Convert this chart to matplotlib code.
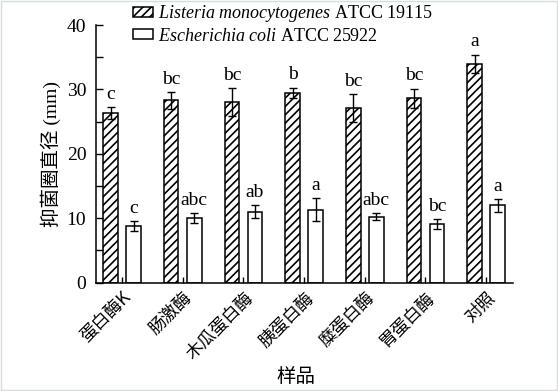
import numpy as np
import matplotlib
matplotlib.use("Agg")
import matplotlib.pyplot as plt
from matplotlib.ticker import MultipleLocator

plt.rcParams['font.family'] = ['Liberation Serif', 'Noto Sans CJK SC']
plt.rcParams['mathtext.fontset'] = 'custom'
plt.rcParams['mathtext.rm'] = 'Liberation Serif'
plt.rcParams['mathtext.it'] = 'Liberation Serif:italic'
plt.rcParams['hatch.linewidth'] = 1.2

# data
samples = ["蛋白酶K", "肠激酶", "木瓜蛋白酶", "胰蛋白酶", "糜蛋白酶", "胃蛋白酶", "对照"]
listeria = [26.3, 28.3, 28.05, 29.45, 27.1, 28.6, 33.95]
listeria_err = [0.9, 1.3, 2.1, 0.85, 2.2, 1.5, 1.45]
listeria_sig = ["c", "bc", "bc", "b", "bc", "bc", "a"]
ecoli = [8.8, 10.05, 11.0, 11.3, 10.25, 9.1, 12.0]
ecoli_err = [0.8, 0.75, 1.0, 1.8, 0.5, 0.8, 0.95]
ecoli_sig = ["c", "abc", "ab", "a", "abc", "bc", "a"]

fig = plt.figure(figsize=(5.58, 3.91), dpi=100)
ax = fig.add_axes([0.172, 0.277, 0.747, 0.659])

x = np.arange(len(samples))
w = 0.24
off = 0.19

ax.bar(x - off, listeria, w, color='white', edgecolor='black', hatch='////',
       linewidth=1.1, label=r'$\it{Listeria\ monocytogenes}$ ATCC 19115')
ax.bar(x + off, ecoli, w, color='white', edgecolor='black',
       linewidth=1.1, label=r'$\it{Escherichia\ coli}$ ATCC 25922')
ax.errorbar(x - off, listeria, yerr=listeria_err, fmt='none', ecolor='black',
            elinewidth=1, capsize=3, capthick=1)
ax.errorbar(x + off, ecoli, yerr=ecoli_err, fmt='none', ecolor='black',
            elinewidth=1, capsize=3, capthick=1)

for xi, v, e, s in zip(x - off, listeria, listeria_err, listeria_sig):
    ax.annotate(s, (xi, v + e), xytext=(0, 6), textcoords='offset points',
                ha='center', va='baseline', fontsize=14)
for xi, v, e, s in zip(x + off, ecoli, ecoli_err, ecoli_sig):
    ax.annotate(s, (xi, v + e), xytext=(0, 6), textcoords='offset points',
                ha='center', va='baseline', fontsize=14)

ax.set_xlim(-0.43, 6.44)
ax.set_ylim(0, 40)
ax.yaxis.set_major_locator(MultipleLocator(10))
ax.yaxis.set_minor_locator(MultipleLocator(5))
ax.tick_params(axis='y', which='both', direction='in', length=5, width=1,
               labelsize=14, pad=7)
ax.tick_params(axis='x', direction='in', length=4, width=1, pad=4)
ax.set_xticks(x)
ax.set_xticklabels(samples, rotation=45, ha='right', rotation_mode='anchor',
                   fontsize=12.5, family=['Noto Sans CJK SC', 'Liberation Serif'])
for sp in ['top', 'right']:
    ax.spines[sp].set_visible(False)
for sp in ['left', 'bottom']:
    ax.spines[sp].set_linewidth(1.1)

ax.set_ylabel("抑菌圈直径 (mm)", fontsize=14, labelpad=4)
ax.set_xlabel("样品", fontsize=14,
              family=['Noto Sans CJK SC', 'Liberation Serif'])
ax.xaxis.set_label_coords(0.48, -0.325)

ax.legend(loc='upper left', bbox_to_anchor=(0.089, 1.085), frameon=False,
          fontsize=13, handlelength=1.1, handleheight=0.5, handletextpad=0.3,
          labelspacing=0.2, borderaxespad=0, borderpad=0)

fig.patches.append(plt.Rectangle((0.002, 0.002), 0.996, 0.996, transform=fig.transFigure,
                                 fill=False, edgecolor='#d5dde0', linewidth=1))

fig.savefig("out.png", dpi=100)
